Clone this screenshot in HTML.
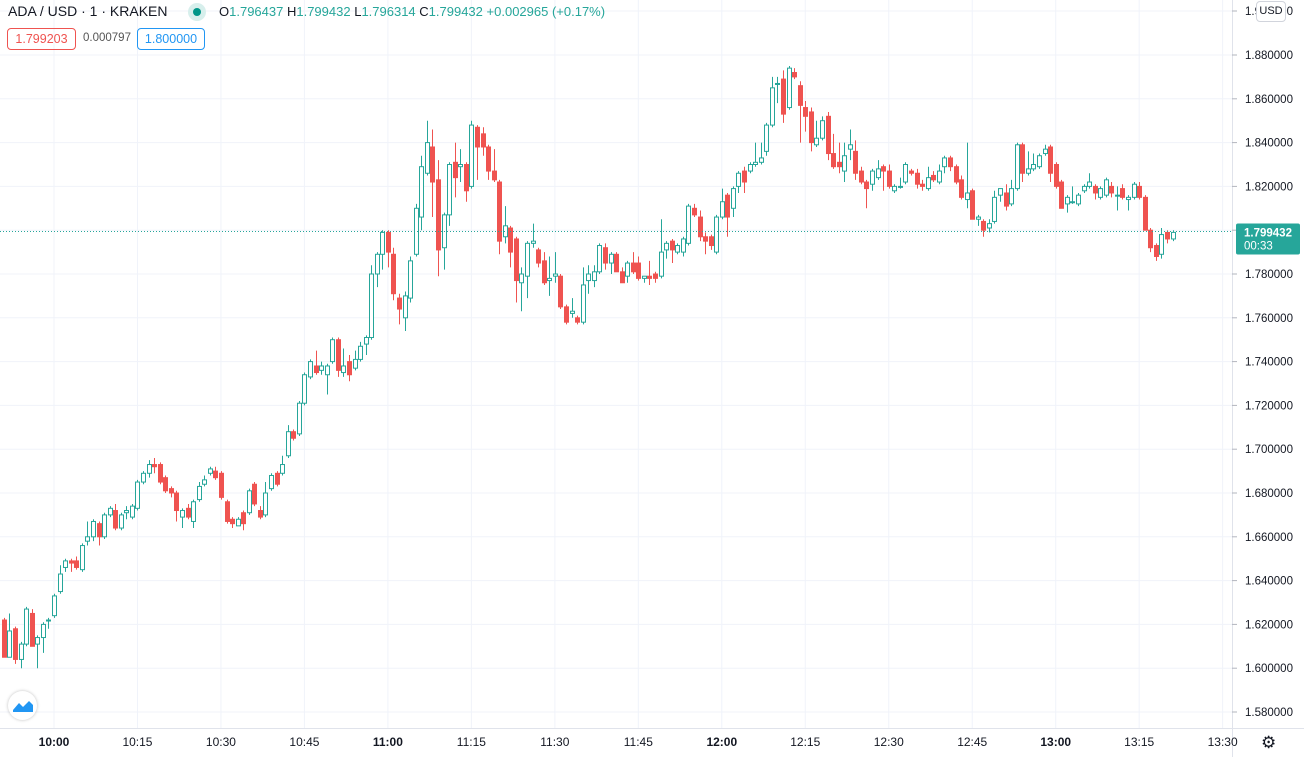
<!DOCTYPE html>
<html><head><meta charset="utf-8"><style>
html,body{margin:0;padding:0;background:#fff;width:1304px;height:757px;overflow:hidden;font-family:"Liberation Sans",sans-serif;}
#wrap{position:relative;width:1304px;height:757px;}
svg{position:absolute;left:0;top:0}
.hdr{position:absolute;font-size:13px;color:#131722;white-space:nowrap}
.box{position:absolute;height:20px;line-height:20px;border:1px solid;border-radius:4px;font-size:12.5px;text-align:center}
</style></head><body><div id="wrap">
<svg id="chart" width="1304" height="757"></svg>
<div class="hdr" style="left:8px;top:3px;font-size:14px">ADA / USD · 1 · KRAKEN</div>
<div style="position:absolute;left:188px;top:3px;width:18px;height:18px;border-radius:50%;background:#d7efec"><div style="position:absolute;left:5px;top:5px;width:8px;height:8px;border-radius:50%;background:#009688"></div></div>
<div class="hdr" style="left:219px;top:4px;font-size:13px">O<span style="color:#26a69a">1.796437</span> H<span style="color:#26a69a">1.799432</span> L<span style="color:#26a69a">1.796314</span> C<span style="color:#26a69a">1.799432</span> <span style="color:#26a69a">+0.002965 (+0.17%)</span></div>
<div class="box" style="left:7px;top:28px;width:67px;border-color:#ef5350;color:#ef5350">1.799203</div>
<div class="hdr" style="left:83px;top:32px;font-size:11.5px;color:#555">0.000797</div>
<div class="box" style="left:137px;top:28px;width:66px;border-color:#2196f3;color:#2196f3">1.800000</div>
<div class="box" style="left:1256px;top:1px;width:28px;height:19px;line-height:19px;border-color:#d1d4dc;background:#fff;color:#131722;font-size:11px">USD</div>
<div style="position:absolute;left:8px;top:691px;width:29px;height:29px;border-radius:50%;background:#fff;box-shadow:0 0 3px rgba(0,0,0,.25)"><svg width="29" height="29" style="position:static"><path d="M5 19 L11 12 L15 16 L21 10 L25 14 L25 21 L5 21 Z" fill="#2196f3"/></svg></div>
<div style="position:absolute;left:1261px;top:733px;font-size:17px;color:#131722">⚙</div>
</div>
<script>
const opens=[1.622,1.605,1.618,1.604,1.611,1.625,1.611,1.614,1.622,1.624,1.635,1.646,1.649,1.649,1.645,1.658,1.660,1.666,1.660,1.670,1.672,
1.664,1.671,1.669,1.673,1.685,1.689,1.693,1.693,1.687,1.682,1.680,1.669,1.673,1.667,1.677,1.684,1.689,1.690,1.689,1.676,1.668,1.665,1.671,1.671,1.684,1.672,1.670,1.682,1.689,1.689,
1.697,1.708,1.707,1.721,1.733,1.738,1.736,1.734,1.740,1.750,1.735,1.740,1.737,1.741,1.748,1.751,1.780,1.789,1.799,1.789,1.769,1.760,1.769,
1.789,1.806,1.826,1.838,1.823,1.792,1.807,1.831,1.829,1.830,1.820,1.847,1.844,1.838,1.827,1.822,1.797,1.801,1.796,1.776,1.779,1.794,1.791,1.786,1.777,1.779,1.779,1.765,1.762,1.760,1.758,1.777,1.777,1.781,
1.792,1.785,1.789,1.781,1.779,1.785,1.785,1.778,1.779,1.780,1.779,1.791,1.795,1.790,1.790,1.794,1.810,1.806,1.797,1.797,1.790,1.806,1.816,1.810,1.820,1.827,1.827,1.830,1.831,1.836,1.848,1.867,1.869,1.856,1.872,1.866,1.856,1.854,1.839,1.842,
1.852,1.835,1.831,1.827,1.837,1.836,1.827,1.822,1.821,1.824,1.829,1.827,1.818,1.820,1.822,1.827,1.826,1.821,1.819,1.825,1.822,1.829,1.833,1.829,1.823,1.814,1.818,1.805,1.804,1.801,1.804,1.816,1.817,1.812,1.819,1.839,1.826,1.828,1.829,
1.835,1.838,1.830,1.822,1.812,1.813,1.812,1.818,1.820,1.820,1.815,1.816,1.820,1.816,1.819,1.814,1.815,1.820,1.815,1.800,1.793,1.789,1.799,1.796];
const highs=[1.623,1.625,1.619,1.612,1.628,1.627,1.615,1.621,1.623,1.634,1.647,1.650,1.650,1.651,1.657,1.667,1.668,1.667,1.671,1.674,1.675,
1.671,1.674,1.675,1.686,1.690,1.695,1.696,1.694,1.688,1.683,1.681,1.673,1.675,1.677,1.685,1.688,1.692,1.692,1.690,1.677,1.669,1.669,1.672,1.682,1.685,1.674,1.685,1.689,1.690,1.697,
1.711,1.709,1.722,1.735,1.741,1.745,1.740,1.739,1.751,1.751,1.746,1.743,1.745,1.749,1.752,1.784,1.790,1.800,1.800,1.792,1.771,1.772,1.788,
1.812,1.834,1.850,1.846,1.832,1.808,1.831,1.840,1.837,1.831,1.850,1.848,1.847,1.839,1.837,1.823,1.811,1.802,1.797,1.783,1.795,1.803,1.792,1.790,1.788,1.790,1.780,1.766,1.769,1.761,1.783,1.784,1.784,1.794,
1.794,1.790,1.790,1.783,1.786,1.790,1.788,1.779,1.786,1.781,1.805,1.795,1.796,1.794,1.797,1.812,1.812,1.809,1.799,1.798,1.807,1.819,1.817,1.820,1.827,1.829,1.831,1.840,1.840,1.849,1.870,1.870,1.873,1.875,1.874,1.868,1.859,1.856,1.850,1.852,
1.854,1.844,1.840,1.840,1.846,1.841,1.829,1.823,1.828,1.832,1.830,1.830,1.821,1.824,1.831,1.828,1.828,1.823,1.829,1.827,1.830,1.834,1.834,1.830,1.825,1.840,1.819,1.807,1.805,1.805,1.818,1.819,1.821,1.823,1.840,1.840,1.836,1.835,1.835,
1.839,1.839,1.831,1.823,1.816,1.820,1.817,1.821,1.826,1.821,1.820,1.824,1.822,1.820,1.821,1.816,1.822,1.822,1.816,1.801,1.794,1.801,1.800,1.800];
const lows=[1.605,1.605,1.602,1.600,1.610,1.610,1.600,1.607,1.618,1.623,1.634,1.644,1.644,1.645,1.644,1.656,1.658,1.656,1.659,1.669,1.663,
1.663,1.668,1.668,1.672,1.684,1.687,1.689,1.684,1.680,1.678,1.667,1.664,1.668,1.664,1.676,1.683,1.688,1.686,1.677,1.666,1.664,1.665,1.663,1.670,1.674,1.668,1.669,1.681,1.683,1.688,
1.696,1.704,1.706,1.720,1.732,1.734,1.734,1.725,1.739,1.733,1.733,1.731,1.736,1.740,1.743,1.750,1.774,1.782,1.783,1.768,1.757,1.754,1.767,
1.788,1.800,1.825,1.806,1.779,1.782,1.802,1.815,1.822,1.813,1.819,1.823,1.834,1.823,1.822,1.789,1.794,1.783,1.767,1.763,1.769,1.792,1.783,1.775,1.770,1.776,1.764,1.757,1.760,1.757,1.757,1.771,1.774,1.780,
1.782,1.780,1.781,1.776,1.776,1.780,1.777,1.776,1.775,1.776,1.778,1.787,1.785,1.789,1.788,1.793,1.806,1.795,1.789,1.791,1.789,1.805,1.797,1.806,1.817,1.817,1.826,1.829,1.830,1.834,1.847,1.858,1.849,1.855,1.869,1.840,1.845,1.836,1.838,1.841,
1.832,1.828,1.826,1.822,1.832,1.823,1.821,1.810,1.818,1.823,1.818,1.819,1.817,1.819,1.821,1.825,1.819,1.818,1.818,1.822,1.821,1.826,1.827,1.821,1.814,1.810,1.805,1.802,1.797,1.799,1.803,1.813,1.809,1.811,1.818,1.822,1.825,1.827,1.828,
1.834,1.822,1.819,1.810,1.808,1.812,1.811,1.817,1.819,1.814,1.814,1.815,1.815,1.809,1.814,1.809,1.814,1.814,1.800,1.790,1.786,1.787,1.794,1.795];
const closes=[1.605,1.617,1.604,1.611,1.627,1.610,1.614,1.620,1.622,1.633,1.643,1.649,1.648,1.646,1.656,1.660,1.667,1.660,1.670,1.673,1.664,
1.670,1.672,1.674,1.685,1.689,1.693,1.692,1.685,1.681,1.680,1.672,1.672,1.669,1.676,1.683,1.686,1.691,1.687,1.678,1.667,1.666,1.668,1.666,1.681,1.675,1.669,1.680,1.688,1.684,1.693,
1.708,1.705,1.721,1.734,1.740,1.735,1.738,1.738,1.750,1.736,1.738,1.734,1.741,1.747,1.751,1.780,1.789,1.799,1.790,1.771,1.764,1.770,1.786,
1.810,1.829,1.840,1.822,1.791,1.807,1.830,1.824,1.830,1.818,1.848,1.838,1.838,1.827,1.823,1.795,1.802,1.790,1.777,1.780,1.794,1.795,1.785,1.776,1.778,1.780,1.765,1.758,1.763,1.758,1.775,1.780,1.781,1.793,
1.785,1.789,1.781,1.776,1.785,1.781,1.778,1.779,1.778,1.778,1.790,1.794,1.791,1.793,1.796,1.811,1.807,1.797,1.795,1.793,1.806,1.813,1.806,1.819,1.826,1.822,1.830,1.831,1.833,1.848,1.865,1.867,1.853,1.874,1.870,1.857,1.852,1.840,1.842,1.850,
1.835,1.829,1.829,1.834,1.839,1.826,1.822,1.819,1.827,1.828,1.827,1.820,1.820,1.820,1.830,1.826,1.821,1.820,1.824,1.823,1.827,1.833,1.829,1.822,1.815,1.817,1.805,1.806,1.800,1.803,1.815,1.819,1.811,1.819,1.839,1.826,1.828,1.830,1.834,
1.837,1.826,1.820,1.810,1.815,1.813,1.816,1.820,1.822,1.817,1.819,1.823,1.817,1.816,1.815,1.815,1.821,1.815,1.800,1.792,1.788,1.798,1.796,1.799];
const priceTicks=[1.58,1.60,1.62,1.64,1.66,1.68,1.70,1.72,1.74,1.76,1.78,1.80,1.82,1.84,1.86,1.88];
const timeLabels=["10:00","10:15","10:30","10:45","11:00","11:15","11:30","11:45","12:00","12:15","12:30","12:45","13:00","13:15","13:30"];
const timeMinutes=[0,15,30,45,60,75,90,105,120,135,150,165,180,195,210];
const boldTimes=["10:00","11:00","12:00","13:00"];
const lastPrice=1.799432;

const NS="http://www.w3.org/2000/svg";
const svg=document.getElementById('chart');
const yOf=p=>55+(1.88-p)*2190;
const xOfMin=m=>54+m*5.565;
const xOfIdx=i=>xOfMin(i-9);
function mk(t,a){const e=document.createElementNS(NS,t);for(const k in a)e.setAttribute(k,a[k]);svg.appendChild(e);return e;}
// grid
timeMinutes.forEach((m,i)=>{const g=mk('line',{x1:xOfMin(m),x2:xOfMin(m),y1:0,y2:728,stroke:'#f0f3fa','stroke-width':1});

});
priceTicks.forEach(p=>{const g=mk('line',{x1:0,x2:1232,y1:yOf(p),y2:yOf(p),stroke:'#f0f3fa','stroke-width':1});

});
mk('line',{x1:0,x2:1232,y1:11,y2:11,stroke:'#f0f3fa'});
// axes borders
const ab=mk('line',{x1:1232.5,x2:1232.5,y1:0,y2:757,stroke:'#e0e3eb'});


const tb=mk('line',{x1:0,x2:1304,y1:728.5,y2:728.5,stroke:'#e0e3eb'});


// price labels
priceTicks.concat([1.90]).forEach(p=>{const y=p>1.89?11:yOf(p);
mk('line',{x1:1232,x2:1237,y1:y,y2:y,stroke:'#b2b5be'});
const t=mk('text',{x:1245,y:y+4,'font-size':11.5,fill:'#131722','font-family':'Liberation Sans, sans-serif'});t.textContent=p.toFixed(6);

});
// time labels
timeLabels.forEach((l,i)=>{const x=xOfMin(timeMinutes[i]);
const t=mk('text',{x:x,y:746,'font-size':12,fill:'#131722','text-anchor':'middle','font-weight':boldTimes.includes(l)?'bold':'normal','font-family':'Liberation Sans, sans-serif'});t.textContent=l;

});
// candles
closes.forEach((c,i)=>{const o=opens[i],h=highs[i],l=lows[i];const x=Math.round(xOfIdx(i))+0.5;const up=c>=o;const col=up?'#26a69a':'#ef5350';
const top=yOf(Math.max(o,c)),bot=yOf(Math.min(o,c));
const w=mk('line',{x1:x,x2:x,y1:yOf(h),y2:top,stroke:col,'stroke-width':1});


const w2=mk('line',{x1:x,x2:x,y1:bot,y2:yOf(l),stroke:col,'stroke-width':1});


const b=mk('rect',{x:x-2,y:top,width:4,height:Math.max(bot-top,1),fill:up?'#fff':col,stroke:col,'stroke-width':1});

});
// last price line
const ly=yOf(lastPrice);
const pl=mk('line',{x1:0,x2:1232,y1:ly,y2:ly,stroke:'#26a69a','stroke-dasharray':'1 2','stroke-width':1});


const pb=mk('rect',{x:1236,y:ly-8,width:64,height:31,rx:2,fill:'#26a69a'});


const pt=mk('text',{x:1244,y:ly+5,'font-size':11.5,'font-weight':'bold',fill:'#fff','font-family':'Liberation Sans, sans-serif'});pt.textContent=lastPrice.toFixed(6);


const ct=mk('text',{x:1244,y:ly+18,'font-size':11.5,fill:'#fff','font-family':'Liberation Sans, sans-serif'});ct.textContent='00:33';


</script></body></html>
